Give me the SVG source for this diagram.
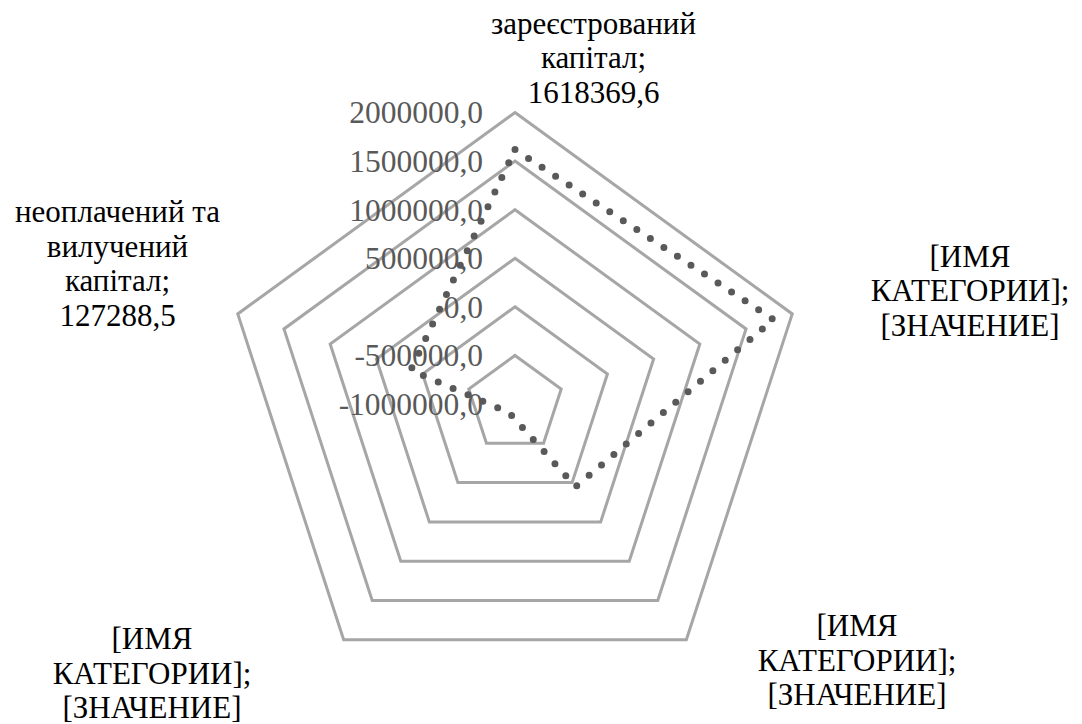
<svg xmlns="http://www.w3.org/2000/svg" width="1082" height="724" viewBox="0 0 1082 724">
<style>
.grid{fill:none;stroke:#a6a6a6;stroke-width:3;stroke-linejoin:miter}
.axis{font-family:'Liberation Serif','Times New Roman',serif;font-size:31.5px;fill:#595959;text-anchor:end}
.cat{font-family:'Liberation Serif','Times New Roman',serif;font-size:31px;fill:#000000;text-anchor:middle}
.series{fill:none;stroke:#595959;stroke-width:7;stroke-linecap:round;stroke-linejoin:round;stroke-dasharray:0 16.2}
</style>
<rect width="1082" height="724" fill="#ffffff"/>
<g id="gridlines">
<polygon class="grid" points="515,355.42 561.21,388.99 543.56,443.30 486.44,443.30 468.79,388.99"/>
<polygon class="grid" points="515,306.83 607.42,373.98 572.11,482.61 457.89,482.61 422.58,373.98"/>
<polygon class="grid" points="515,258.25 653.62,358.96 600.67,521.91 429.33,521.91 376.38,358.96"/>
<polygon class="grid" points="515,209.67 699.83,343.95 629.23,561.22 400.77,561.22 330.17,343.95"/>
<polygon class="grid" points="515,161.08 746.04,328.94 657.79,600.52 372.21,600.52 283.96,328.94"/>
<polygon class="grid" points="515,112.5 792.24,313.93 686.34,639.83 343.66,639.83 237.76,313.93"/>
</g>
<g id="value-axis">
<text class="axis" x="483" y="123.3">2000000,0</text>
<text class="axis" x="483" y="171.9">1500000,0</text>
<text class="axis" x="483" y="220.5">1000000,0</text>
<text class="axis" x="483" y="269.1">500000,0</text>
<text class="axis" x="483" y="317.6">0,0</text>
<text class="axis" x="483" y="366.2">-500000,0</text>
<text class="axis" x="483" y="414.8">-1000000,0</text>
</g>
<g id="connectors">
<path id="series" class="series" d="M515,149.5 L773.5,319.5 L575.7,486.7 L509,412.6 L410.8,370.1 Z"/>
</g>
<g id="label-top">
<text class="cat" x="593.5" y="33.5">зареєстрований</text>
<text class="cat" x="593.5" y="68.2">капітал;</text>
<text class="cat" x="593.5" y="102.9">1618369,6</text>
</g>
<g id="label-right">
<text class="cat" x="970" y="266.7">[ИМЯ</text>
<text class="cat" x="970" y="301.4">КАТЕГОРИИ];</text>
<text class="cat" x="970" y="336.1">[ЗНАЧЕНИЕ]</text>
</g>
<g id="label-bottom-right">
<text class="cat" x="857" y="636">[ИМЯ</text>
<text class="cat" x="857" y="670.7">КАТЕГОРИИ];</text>
<text class="cat" x="857" y="705.4">[ЗНАЧЕНИЕ]</text>
</g>
<g id="label-bottom-left">
<text class="cat" x="152" y="649">[ИМЯ</text>
<text class="cat" x="152" y="683.5">КАТЕГОРИИ];</text>
<text class="cat" x="152" y="718">[ЗНАЧЕНИЕ]</text>
</g>
<g id="label-left">
<text class="cat" x="117.5" y="222">неоплачений та</text>
<text class="cat" x="117.5" y="256.7">вилучений</text>
<text class="cat" x="117.5" y="291.4">капітал;</text>
<text class="cat" x="117.5" y="326.1">127288,5</text>
</g>
</svg>
